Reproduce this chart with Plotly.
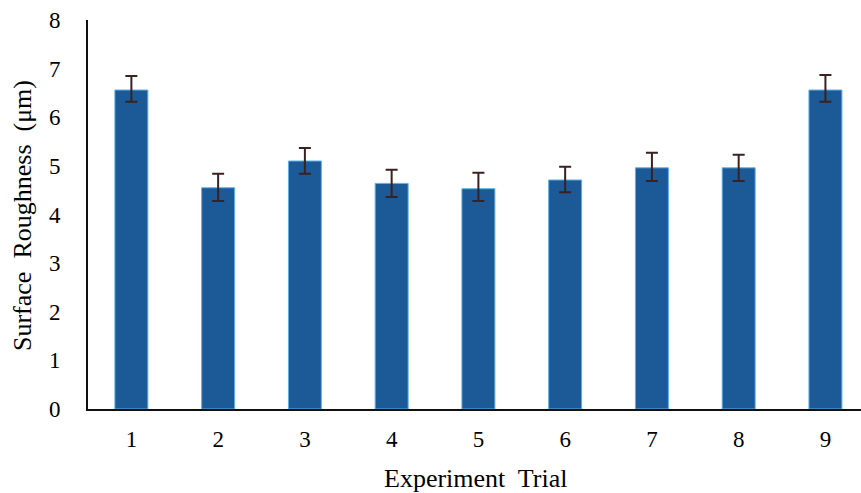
import plotly.graph_objects as go

trials = ["1", "2", "3", "4", "5", "6", "7", "8", "9"]
roughness = [6.56, 4.55, 5.10, 4.64, 4.53, 4.71, 4.96, 4.96, 6.56]
err_plus = [0.29, 0.29, 0.27, 0.28, 0.33, 0.27, 0.31, 0.27, 0.31]
err_minus = [0.24, 0.27, 0.26, 0.28, 0.25, 0.25, 0.27, 0.27, 0.24]
y_ticks = [0, 1, 2, 3, 4, 5, 6, 7, 8]

xpos = list(range(1, len(trials) + 1))

fig = go.Figure()
fig.add_trace(go.Bar(
    x=xpos, y=roughness, width=0.38,
    marker=dict(color="#1b5a97", line=dict(color="#5fb0e6", width=1)),
    error_y=dict(type="data", symmetric=False, array=err_plus, arrayminus=err_minus,
                 color="#3a2222", thickness=2, width=6),
))

font = "Liberation Serif, Times New Roman, serif"
fig.update_layout(
    width=861, height=493,
    margin=dict(l=88, r=0, t=20, b=84),
    paper_bgcolor="white", plot_bgcolor="white",
    showlegend=False,
    font=dict(family=font, color="black", size=22),
    xaxis=dict(
        range=[0.5, 9.41], tickmode="array", tickvals=xpos, ticktext=trials,
        showline=True, linecolor="#111", linewidth=2, ticks="", showgrid=False,
        zeroline=False, tickfont=dict(size=23, family=font), automargin=False,
        ticklabelstandoff=8,
    ),
    yaxis=dict(
        range=[0, 8], tickmode="array", tickvals=y_ticks,
        showline=True, linecolor="#111", linewidth=2, ticks="", showgrid=False,
        zeroline=False, tickfont=dict(size=23, family=font), ticklabelstandoff=21,
        automargin=False,
    ),
    annotations=[
        dict(text="Experiment\u00a0 Trial", xref="paper", yref="paper", x=(475 - 88) / 773,
             y=-(478 - 409) / 389, xanchor="center", yanchor="middle", showarrow=False,
             font=dict(size=26, family=font, color="black")),
        dict(text="Surface\u00a0 Roughness\u00a0 (μm)", xref="paper", yref="paper",
             x=-(88 - 22) / 773, y=(409 - 216) / 389, textangle=-90,
             xanchor="center", yanchor="middle", showarrow=False,
             font=dict(size=26, family=font, color="black")),
    ],
)
fig.write_html("out.html", config={"displayModeBar": False},
               post_script="document.body.style.margin='0';document.body.style.overflow='hidden';")
